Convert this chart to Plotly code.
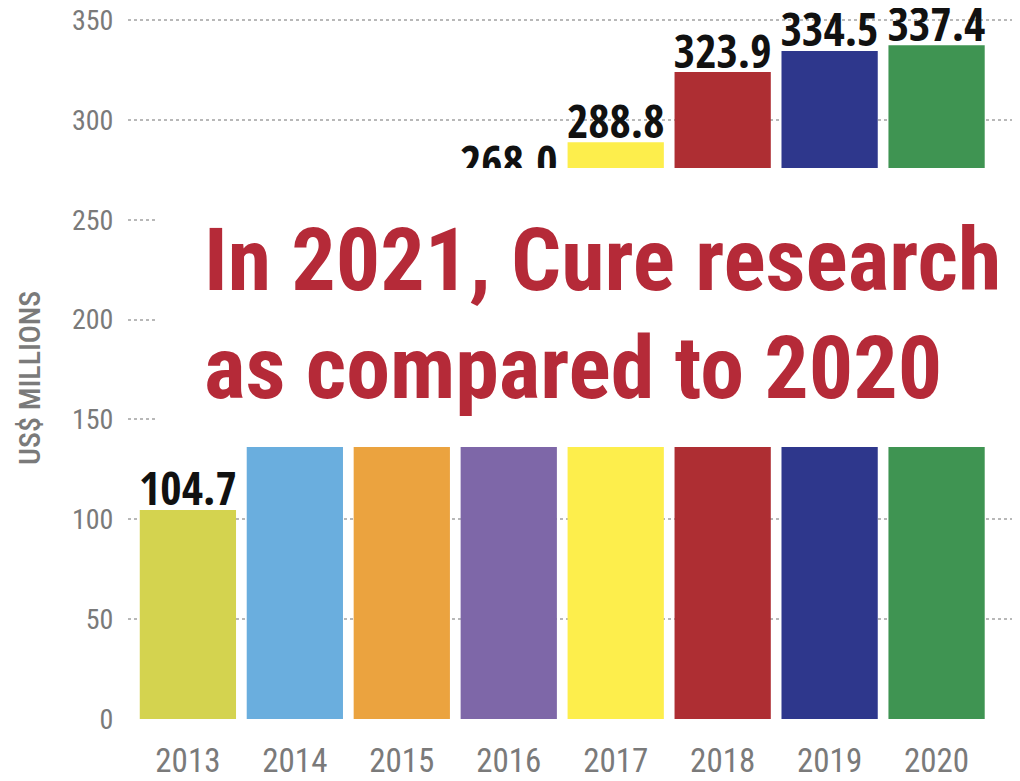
import plotly.graph_objects as go

years = ["2013", "2014", "2015", "2016", "2017", "2018", "2019", "2020"]
funding = [104.7, 160.9, 201.2, 268.0, 288.8, 323.9, 334.5, 337.4]
bar_colors = ["#d4d34f", "#6aaede", "#eba33f", "#7e67a8", "#fdee4c", "#ae2e33", "#2e378c", "#3f9452"]
y_ticks = [0, 50, 100, 150, 200, 250, 300, 350]
headline_1 = "In 2021, Cure research funding"
headline_2 = "as compared to 2020"
y_title = "US$ MILLIONS"

# page body has an 8px margin; lay out the figure in page coordinates
OFF = 8
W, H = 1020 - OFF, 781 - OFF
L, T, B = 128 - OFF, 10 - OFF, 62
R = 0
pw = W - L - R
ph = H - T - B

def px_x(x):
    return (x - OFF - L) / pw

def px_y(y):
    return (H - B - (y - OFF)) / ph

COND = "Open Sans Condensed"
HEAD = "Roboto Condensed"

xi = list(range(len(years)))

fig = go.Figure()
fig.add_trace(go.Bar(
    x=xi,
    y=funding,
    marker=dict(color=bar_colors, line=dict(width=0)),
    width=0.9,
    hoverinfo="skip",
))
# value labels sitting just above each bar
fig.add_trace(go.Scatter(
    x=xi,
    y=[v - 3.5 for v in funding],
    mode="text",
    text=[f"{v:.1f}" for v in funding],
    textposition="top center",
    textfont=dict(family=COND, size=46, color="#111111", weight="bold"),
    cliponaxis=False,
    hoverinfo="skip",
))

fig.update_layout(
    width=W, height=H,
    margin=dict(l=L, r=R, t=T, b=B, pad=0, autoexpand=False),
    paper_bgcolor="white", plot_bgcolor="white",
    showlegend=False,
    xaxis=dict(
        range=[-0.56, 7.78], automargin=False,
        tickmode="array", tickvals=xi, ticktext=years,
        tickfont=dict(family=HEAD, size=33, color="#7a7a7a", weight=400),
        ticks="outside", ticklen=12, tickcolor="rgba(0,0,0,0)",
        ticklabeloverflow="allow",
        showgrid=False, zeroline=False, showline=False,
    ),
    yaxis=dict(
        range=[0, 355], automargin=False,
        tickmode="array", tickvals=y_ticks,
        tickfont=dict(family=HEAD, size=28, color="#7a7a7a", weight=400),
        ticks="outside", ticklen=8, tickcolor="rgba(0,0,0,0)",
        ticklabeloverflow="allow",
        showgrid=True, gridcolor="#b8b8b8", gridwidth=1.5, griddash="dot",
        zeroline=False, showline=False,
    ),
)

# white overlay band
fig.add_shape(
    type="rect", xref="paper", yref="paper",
    x0=px_x(157), x1=1.05, y0=px_y(447), y1=px_y(168),
    fillcolor="white", line=dict(width=0), layer="above",
)

red = "#b52a38"
fig.add_annotation(
    xref="paper", yref="paper", x=px_x(202), y=px_y(259),
    xanchor="left", yanchor="middle", showarrow=False,
    text=headline_1,
    font=dict(family=HEAD, size=88, color=red, weight="bold"),
)
fig.add_annotation(
    xref="paper", yref="paper", x=px_x(202), y=px_y(367),
    xanchor="left", yanchor="middle", showarrow=False,
    text=headline_2,
    font=dict(family=HEAD, size=88, color=red, weight="bold"),
)
fig.add_annotation(
    xref="paper", yref="paper", x=px_x(29), y=px_y(378),
    xanchor="center", yanchor="middle", showarrow=False, textangle=-90,
    text=y_title,
    font=dict(family=HEAD, size=30, color="#7a7a7a", weight=500),
)

fig.write_html("out.html")
